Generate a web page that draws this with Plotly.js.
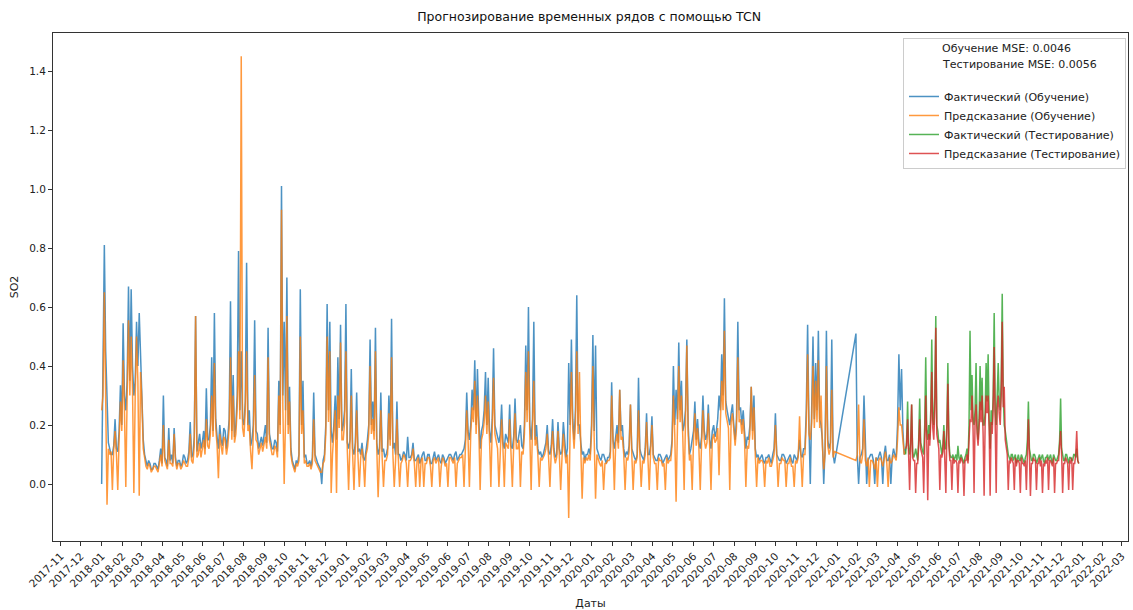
<!DOCTYPE html>
<html>
<head>
<meta charset="utf-8">
<script src="https://cdn.plot.ly/plotly-3.0.1.min.js"></script>
<style>html,body{margin:0;padding:0;background:#fff;}#chart{width:1133px;height:610px;}</style>
</head>
<body>
<div id="chart"></div>
<script>
// ---- data ----
const trainStart = '2018-01-01';   // 2-day sampling
const trainStepHours = 48;
const testStart = '2021-04-13';    // 1.5-day sampling
const testStepHours = 36;

const trainActual = [
0.00,0.40,0.81,0.45,0.30,0.14,0.12,0.10,0.10,0.13,0.22,0.12,0.11,0.18,0.335,0.20,0.545,0.30,0.25,0.35,
0.67,0.35,0.66,0.40,0.30,0.35,0.55,0.40,0.58,0.45,0.30,0.15,0.10,0.08,0.06,0.08,0.07,0.05,0.05,0.07,
0.07,0.06,0.05,0.08,0.12,0.07,0.30,0.09,0.08,0.06,0.19,0.08,0.10,0.07,0.19,0.09,0.06,0.08,0.08,0.06,
0.07,0.10,0.09,0.07,0.08,0.11,0.21,0.09,0.10,0.16,0.57,0.11,0.14,0.17,0.12,0.14,0.18,0.12,0.325,0.15,
0.15,0.20,0.43,0.18,0.58,0.22,0.16,0.12,0.20,0.15,0.13,0.19,0.18,0.12,0.16,0.22,0.62,0.18,0.37,0.16,
0.20,0.30,0.79,0.25,0.45,0.22,0.20,0.28,0.75,0.20,0.25,0.13,0.15,0.20,0.555,0.18,0.17,0.12,0.14,0.16,
0.13,0.16,0.20,0.14,0.53,0.17,0.15,0.12,0.12,0.15,0.14,0.11,0.35,0.20,1.01,0.30,0.55,0.25,0.70,0.20,
0.33,0.12,0.08,0.06,0.05,0.08,0.07,0.10,0.66,0.20,0.35,0.09,0.10,0.07,0.07,0.08,0.06,0.09,0.31,0.10,
0.08,0.07,0.06,0.05,0.00,0.08,0.10,0.20,0.61,0.25,0.55,0.18,0.14,0.20,0.30,0.15,0.43,0.22,0.54,0.18,
0.20,0.25,0.61,0.14,0.12,0.15,0.39,0.12,0.10,0.14,0.31,0.11,0.12,0.10,0.14,0.09,0.08,0.11,0.15,0.20,
0.49,0.20,0.28,0.18,0.53,0.14,0.10,0.12,0.31,0.11,0.12,0.09,0.10,0.12,0.30,0.15,0.56,0.12,0.14,0.10,
0.28,0.10,0.10,0.08,0.09,0.11,0.10,0.08,0.16,0.09,0.09,0.10,0.14,0.08,0.08,0.09,0.10,0.07,0.09,0.10,
0.11,0.08,0.08,0.10,0.10,0.07,0.07,0.09,0.11,0.08,0.09,0.10,0.08,0.07,0.10,0.09,0.07,0.08,0.09,0.10,
0.10,0.09,0.08,0.10,0.11,0.08,0.09,0.10,0.10,0.11,0.12,0.15,0.31,0.18,0.15,0.20,0.32,0.25,0.42,0.20,
0.39,0.22,0.12,0.18,0.20,0.25,0.38,0.20,0.36,0.18,0.14,0.22,0.46,0.20,0.18,0.15,0.14,0.17,0.27,0.14,
0.12,0.17,0.15,0.14,0.27,0.13,0.12,0.16,0.29,0.15,0.14,0.18,0.20,0.13,0.12,0.20,0.47,0.25,0.60,0.20,
0.15,0.22,0.55,0.15,0.20,0.12,0.10,0.11,0.09,0.10,0.12,0.14,0.20,0.11,0.10,0.13,0.22,0.12,0.09,0.10,
0.21,0.12,0.10,0.11,0.21,0.13,0.09,0.12,0.41,0.20,0.49,0.22,0.15,0.25,0.64,0.20,0.20,0.14,0.10,0.11,
0.08,0.10,0.10,0.12,0.10,0.20,0.505,0.18,0.47,0.12,0.10,0.09,0.08,0.10,0.10,0.08,0.07,0.09,0.09,0.11,
0.345,0.15,0.12,0.16,0.20,0.14,0.32,0.18,0.20,0.12,0.09,0.11,0.10,0.13,0.27,0.12,0.10,0.09,0.08,0.10,
0.36,0.12,0.10,0.09,0.08,0.12,0.24,0.10,0.10,0.13,0.23,0.10,0.09,0.08,0.08,0.10,0.10,0.09,0.07,0.08,
0.09,0.10,0.08,0.09,0.10,0.15,0.40,0.20,0.32,0.22,0.48,0.25,0.35,0.18,0.20,0.25,0.49,0.20,0.10,0.12,
0.15,0.18,0.28,0.15,0.22,0.14,0.12,0.16,0.30,0.18,0.15,0.17,0.27,0.15,0.12,0.18,0.20,0.16,0.18,0.22,
0.30,0.25,0.44,0.30,0.63,0.28,0.25,0.22,0.20,0.24,0.27,0.20,0.15,0.22,0.55,0.25,0.26,0.20,0.25,0.18,
0.12,0.16,0.15,0.20,0.33,0.18,0.30,0.12,0.09,0.10,0.08,0.09,0.10,0.08,0.07,0.09,0.09,0.10,0.08,0.07,
0.10,0.12,0.24,0.10,0.09,0.08,0.08,0.10,0.10,0.09,0.07,0.08,0.09,0.10,0.08,0.07,0.10,0.09,0.08,0.10,
0.15,0.10,0.09,0.12,0.12,0.25,0.54,0.20,0.00,0.25,0.50,0.22,0.41,0.25,0.52,0.22,0.20,0.15,0.00,0.12,
0.52,0.15,0.12,0.14,0.49,0.10,0.07,null,null,null,null,null,null,null,null,null,null,null,null,null,
null,null,0.51,0.10,0.00,0.09,0.10,0.12,0.30,0.10,0.00,0.08,0.09,0.10,0.10,0.08,0.00,0.09,0.08,0.10,
0.11,0.09,0.00,0.10,0.13,0.08,0.08,0.10,0.00,0.09,0.12,0.10,0.09,0.20,0.44,0.25,0.39,0.18,0.10,0.12
];
const trainPredicted = [
0.25,0.30,0.65,0.35,-0.07,0.12,0.10,0.11,-0.02,0.12,0.18,0.10,-0.02,0.15,0.28,0.18,0.42,0.25,-0.01,0.30,
0.555,0.30,0.50,0.32,-0.03,0.30,0.50,0.35,-0.04,0.38,0.28,0.12,0.08,0.06,0.05,0.07,0.06,0.04,0.05,0.06,
0.06,0.05,0.04,0.07,0.10,0.06,0.20,0.08,0.06,0.05,0.15,0.07,0.07,0.06,0.17,0.08,0.05,0.07,0.07,0.05,
0.06,0.08,0.07,0.06,0.06,0.09,0.17,0.08,0.07,0.13,0.57,0.09,0.10,0.14,0.09,0.12,0.15,0.10,0.22,0.13,
0.12,0.17,0.30,0.16,0.41,0.19,0.13,0.02,0.17,0.13,0.10,0.16,0.15,0.10,0.13,0.19,0.43,0.15,0.30,0.14,
0.17,0.26,0.45,0.22,1.45,0.19,0.16,0.25,0.45,0.18,0.20,0.11,0.05,0.17,0.37,0.15,0.14,0.10,0.12,0.14,
0.11,0.13,0.16,0.12,0.43,0.15,0.12,0.10,0.10,0.13,0.12,0.09,0.30,0.17,0.93,0.26,0.00,0.22,0.57,0.17,
0.28,0.10,0.07,0.05,0.04,0.07,0.06,0.08,0.50,0.17,0.25,0.07,0.08,0.06,0.06,0.07,0.05,0.07,0.22,0.08,
0.07,0.06,0.05,0.04,0.04,0.07,0.08,0.17,0.50,0.21,0.45,-0.03,0.10,0.17,0.25,-0.03,0.30,0.19,0.48,0.15,
0.15,0.21,0.45,0.12,-0.02,0.13,0.30,0.10,-0.02,0.12,0.25,0.09,-0.01,0.09,0.12,0.08,-0.01,0.10,0.12,0.17,
0.40,0.17,0.22,0.15,0.45,0.12,-0.045,0.10,0.25,0.09,-0.01,0.08,0.08,0.10,0.24,0.13,0.43,0.10,-0.01,0.08,
0.22,0.09,-0.01,0.07,0.08,0.10,0.09,0.07,-0.01,0.08,0.08,0.09,0.12,0.07,-0.01,0.08,0.09,-0.01,0.08,0.09,
-0.01,0.07,0.07,0.09,0.09,0.06,-0.01,0.08,0.09,0.07,0.08,0.09,-0.01,0.06,0.09,0.08,0.06,0.07,-0.01,0.09,
0.09,0.08,0.07,0.09,-0.01,0.07,0.08,0.09,0.09,0.10,-0.01,0.13,0.25,0.15,-0.01,0.17,0.26,0.21,0.35,0.17,
0.30,0.19,-0.02,0.15,0.17,0.21,0.30,0.17,0.28,0.15,-0.01,0.19,0.36,0.17,0.15,0.12,-0.01,0.14,0.22,0.12,
-0.01,0.14,0.13,0.12,0.22,0.11,-0.01,0.13,0.24,0.12,0.12,0.15,-0.01,0.11,0.10,0.17,0.38,0.21,0.45,0.17,
-0.02,0.19,0.35,0.13,0.16,0.10,-0.01,0.09,0.08,0.09,0.10,0.12,0.17,0.09,-0.01,0.11,0.18,0.10,0.07,0.09,
0.18,0.10,-0.02,0.09,0.17,0.11,0.07,0.10,-0.115,0.17,0.38,0.19,0.12,0.21,0.45,0.17,0.38,0.12,-0.05,0.09,
0.07,0.09,0.08,0.10,0.08,0.17,0.40,0.15,-0.05,0.10,0.08,0.07,0.06,0.08,-0.02,0.07,0.07,0.08,0.08,0.09,
0.30,0.13,-0.02,0.14,0.17,0.12,0.32,0.15,0.16,0.10,-0.02,0.09,0.08,0.11,0.27,0.10,-0.02,0.08,0.07,0.09,
0.25,0.10,-0.01,0.08,0.07,0.10,0.21,0.09,-0.02,0.11,0.20,0.09,0.07,0.07,-0.02,0.09,0.08,0.08,0.06,0.07,
-0.02,0.09,0.07,0.08,0.08,0.13,0.30,0.17,-0.06,0.19,0.40,0.21,0.30,0.16,-0.02,0.21,0.47,0.17,0.08,0.10,
-0.02,0.15,0.24,0.13,0.19,0.12,-0.02,0.14,0.25,0.15,0.12,0.14,0.24,0.13,-0.02,0.15,0.17,0.14,0.15,0.19,
0.03,0.21,0.35,0.25,0.52,0.24,0.22,0.19,-0.02,0.21,0.24,0.17,0.13,0.19,0.43,0.21,0.22,0.17,0.22,0.15,
-0.01,0.13,0.12,0.17,0.33,0.15,0.26,0.10,-0.01,0.09,0.07,0.08,0.08,0.07,-0.01,0.08,0.07,0.09,0.06,0.06,
0.08,0.10,0.20,0.09,-0.01,0.07,0.07,0.09,0.08,0.08,-0.01,0.07,0.07,0.09,0.06,0.06,-0.01,0.08,0.07,0.09,
0.23,0.09,-0.01,0.10,0.10,0.21,0.44,0.17,0.15,0.21,0.40,0.19,0.35,0.21,0.42,0.19,0.30,0.13,0.05,0.10,
0.40,0.13,0.10,0.12,0.32,0.09,0.11,null,null,null,null,null,null,null,null,null,null,null,null,null,
null,null,0.08,0.10,0.27,0.08,0.07,0.10,0.22,0.08,0.06,0.09,-0.01,0.08,0.08,0.07,0.05,0.09,-0.01,0.08,
0.09,0.08,0.06,0.09,0.11,0.07,-0.01,0.09,0.07,0.08,0.10,0.09,0.08,0.15,0.26,0.20,0.20,0.15,0.10,0.11
];
const testActual = [
0.10,0.15,0.28,0.12,0.10,0.14,0.27,0.11,0.09,0.10,0.12,0.09,0.08,0.15,0.29,0.14,0.12,0.11,0.10,0.20,
0.43,0.18,0.15,0.20,0.15,0.25,0.49,0.22,0.20,0.30,0.57,0.20,0.18,0.14,0.15,0.12,0.10,0.13,0.20,0.12,
0.12,0.20,0.41,0.15,0.10,0.09,0.09,0.10,0.08,0.09,0.10,0.08,0.13,0.09,0.08,0.10,0.09,0.08,0.07,0.09,
0.10,0.12,0.08,0.20,0.52,0.25,0.37,0.22,0.20,0.25,0.41,0.20,0.15,0.22,0.40,0.25,0.36,0.20,0.20,0.24,
0.41,0.28,0.44,0.22,0.12,0.25,0.20,0.30,0.58,0.25,0.20,0.30,0.41,0.28,0.25,0.35,0.645,0.30,0.20,0.18,
0.15,0.12,0.10,0.09,0.08,0.10,0.10,0.08,0.09,0.10,0.07,0.09,0.10,0.08,0.08,0.10,0.09,0.08,0.07,0.09,
0.10,0.15,0.28,0.12,0.09,0.08,0.08,0.10,0.10,0.09,0.07,0.08,0.09,0.10,0.08,0.09,0.10,0.08,0.07,0.09,
0.09,0.10,0.08,0.09,0.10,0.08,0.07,0.10,0.09,0.08,0.08,0.09,0.10,0.15,0.29,0.12,0.09,0.08,0.08,0.10,
0.10,0.08,0.07,0.09,0.09,0.08,0.08,0.10,0.10,0.09,0.12,0.08,0.07
];
const testPredicted = [
0.12,0.13,0.22,0.10,-0.02,0.12,0.27,0.09,0.08,0.08,-0.03,0.07,0.07,0.13,0.22,0.12,0.10,0.09,-0.03,0.17,
0.30,0.15,-0.055,0.17,0.13,0.21,0.38,0.19,0.15,0.25,0.53,0.17,0.14,0.12,-0.02,0.10,0.09,0.11,0.18,0.10,
-0.03,0.17,0.34,0.13,0.08,0.08,-0.02,0.09,0.07,0.08,0.08,0.07,-0.03,0.08,0.07,0.09,0.08,0.07,-0.04,0.08,
0.08,0.10,0.07,0.17,0.22,0.21,0.30,0.19,-0.03,0.21,0.27,0.17,0.13,0.19,0.28,0.21,0.30,0.17,-0.04,0.20,
0.30,0.24,0.30,0.19,-0.04,0.21,0.17,0.26,0.465,0.21,-0.03,0.26,0.30,0.24,0.20,0.30,0.55,0.26,0.33,0.15,
0.12,0.10,-0.02,0.08,0.07,0.09,0.08,0.07,-0.02,0.09,0.06,0.08,0.08,0.07,-0.03,0.09,0.07,0.07,0.06,0.08,
-0.02,0.13,0.22,0.10,-0.04,0.07,0.07,0.09,0.08,0.08,-0.02,0.07,0.07,0.09,0.06,0.08,-0.03,0.07,0.06,0.08,
0.07,0.09,-0.02,0.08,0.08,0.07,0.06,0.09,-0.03,0.07,0.07,0.08,0.08,0.13,0.18,0.10,-0.03,0.07,0.07,0.09,
0.08,0.07,-0.02,0.08,0.07,0.09,-0.02,0.07,0.07,0.10,0.18,0.08,0.07
];
const yTicks = [0.0,0.2,0.4,0.6,0.8,1.0,1.2,1.4];
const seriesNames = ['Фактический (Обучение)','Предсказание (Обучение)','Фактический (Тестирование)','Предсказание (Тестирование)'];
const mseText = ['Обучение MSE: 0.0046','Тестирование MSE: 0.0056'];
const titleText = 'Прогнозирование временных рядов с помощью TCN';

// ---- build the regular time index ----
function dates(start, stepHours, n){
  const out=[]; const t0=new Date(start+'T00:00:00Z').getTime();
  for(let i=0;i<n;i++){ out.push(new Date(t0+i*stepHours*3600000).toISOString().replace('T',' ').slice(0,19)); }
  return out;
}
const trainDates = dates(trainStart, trainStepHours, trainActual.length);
const testDates = dates(testStart, testStepHours, testActual.length);

const colors = ['#1f77b4','#ff7f0e','#2ca02c','#d62728'];
const font = 'DejaVu Sans, sans-serif';
function tr(x,y,i){ return {x:x,y:y,name:seriesNames[i],type:'scatter',mode:'lines',connectgaps:true,
  line:{color:colors[i],width:1.5},opacity:0.8}; }
const data = [
  tr(trainDates, trainActual, 0),
  tr(trainDates, trainPredicted, 1),
  tr(testDates, testActual, 2),
  tr(testDates, testPredicted, 3)
];

const layout = {
  width:1133, height:610,
  margin:{l:53,r:5,t:33,b:69},
  paper_bgcolor:'#fff', plot_bgcolor:'#fff',
  font:{family:font,size:10.5,color:'#222'},
  title:{text:titleText,font:{family:font,size:12.5,color:'#111'},x:0.52,xanchor:'center',y:0.972,yanchor:'middle'},
  showlegend:true,
  legend:{x:0.7907,y:0.99,xanchor:'left',yanchor:'top',bgcolor:'rgba(255,255,255,0.8)',bordercolor:'#cccccc',borderwidth:1,
    font:{family:font,size:11,color:'#222'},traceorder:'normal',
    title:{text:'\u00a0<br>\u00a0<br>\u00a0',font:{size:11}}},
  xaxis:{type:'date',range:['2017-10-20 12:00','2022-03-10 10:00'],dtick:'M1',tick0:'2017-11-01',tickformat:'%Y-%m',tickangle:-45,
    ticks:'outside',ticklen:4,tickcolor:'#333',showline:true,mirror:true,linecolor:'#333',linewidth:1,showgrid:false,zeroline:false,
    tickfont:{family:font,size:10.5,color:'#222'},
    title:{text:'Даты',font:{family:font,size:11,color:'#222'},standoff:10}},
  yaxis:{range:[-0.193,1.529],tickvals:yTicks,tickformat:'.1f',ticks:'outside',ticklen:4,tickcolor:'#333',showline:true,mirror:true,
    linecolor:'#333',linewidth:1,showgrid:false,zeroline:false,tickfont:{family:font,size:10.5,color:'#222'},
    title:{text:'SO2',font:{family:font,size:11,color:'#222'},standoff:8}},
  annotations:[
    {xref:'paper',yref:'paper',x:(940-53)/1075,y:1-(49-33)/508,xanchor:'left',yanchor:'middle',showarrow:false,text:mseText[0],font:{family:font,size:11,color:'#222'}},
    {xref:'paper',yref:'paper',x:(940-53)/1075,y:1-(64-33)/508,xanchor:'left',yanchor:'middle',showarrow:false,text:mseText[1],font:{family:font,size:11,color:'#222'}}
  ]
};
Plotly.newPlot('chart', data, layout, {displayModeBar:false, staticPlot:true});
</script>
</body>
</html>
